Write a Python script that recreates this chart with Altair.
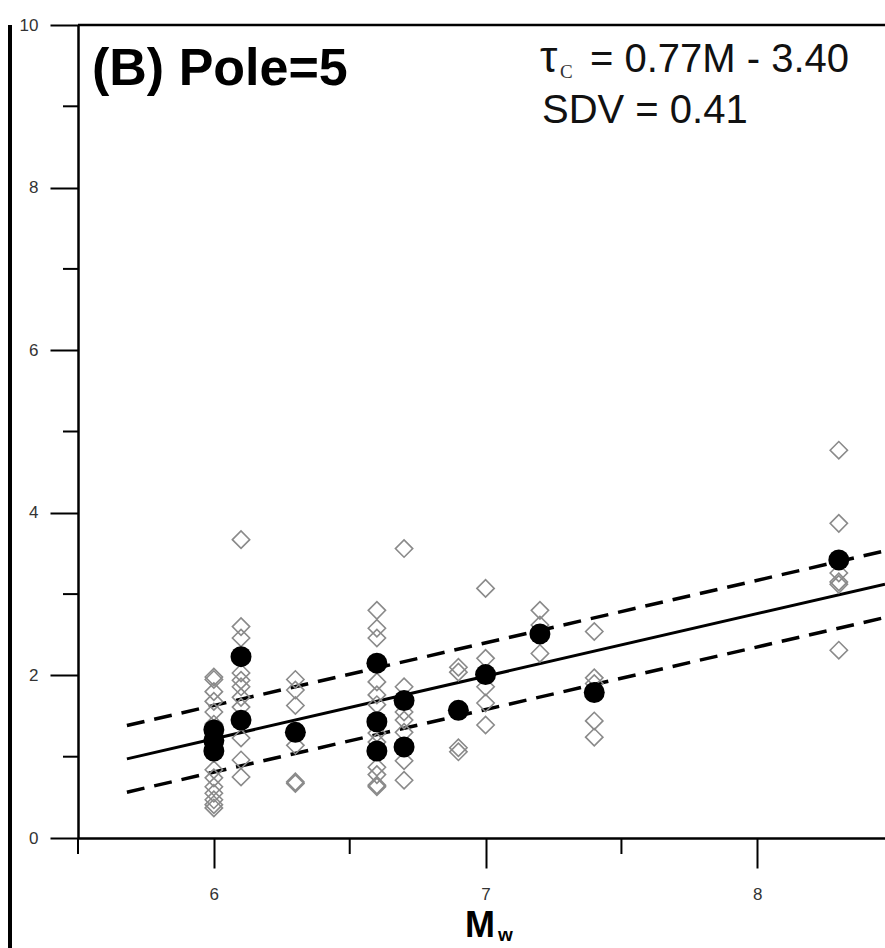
import altair as alt
import pandas as pd

# ---- data ----
# open diamonds: individual station tau_c values, grouped by event magnitude Mw
st_mw = [6.0, 6.1, 6.3, 6.6, 6.7, 6.9, 7.0, 7.2, 7.4, 8.3]
st_tau_60 = [1.98, 1.95, 1.80, 1.68, 1.55, 1.40, 0.84, 0.74, 0.63, 0.55, 0.47, 0.41, 0.37]
st_tau_61 = [3.67, 2.60, 2.46, 2.03, 1.94, 1.86, 1.73, 1.61, 1.23, 0.96, 0.75]
st_tau_63 = [1.95, 1.82, 1.63, 1.14, 0.69, 0.67]
st_tau_66 = [2.80, 2.58, 2.46, 1.92, 1.76, 1.64, 1.29, 1.18, 0.87, 0.78, 0.65, 0.63]
st_tau_67 = [3.56, 1.86, 1.55, 1.45, 1.30, 0.95, 0.71]
st_tau_69 = [2.10, 2.04, 1.11, 1.06]
st_tau_70 = [3.07, 2.21, 1.86, 1.66, 1.39]
st_tau_72 = [2.80, 2.62, 2.27]
st_tau_74 = [2.54, 1.97, 1.90, 1.44, 1.24]
st_tau_83 = [4.77, 3.87, 3.26, 3.15, 3.12, 2.31]
st_groups = [st_tau_60, st_tau_61, st_tau_63, st_tau_66, st_tau_67,
             st_tau_69, st_tau_70, st_tau_72, st_tau_74, st_tau_83]

# filled circles: event-averaged tau_c
ev_mw = [6.0, 6.0, 6.0, 6.1, 6.1, 6.3, 6.6, 6.6, 6.6, 6.7, 6.7, 6.9, 7.0, 7.2, 7.4, 8.3]
ev_tau = [1.33, 1.20, 1.07, 2.23, 1.45, 1.30, 2.15, 1.43, 1.07, 1.69, 1.12, 1.57, 2.01, 2.51, 1.79, 3.42]

# regression  tau_c = 0.77 M - 3.40, SDV = 0.41
fit_slope = 0.77
fit_intercept = -3.40
fit_sdv = 0.41
fit_range = [5.68, 8.47]

x_major = [6, 7, 8]
x_minor = [5.5, 6.5, 7.5]
y_major = [0, 2, 4, 6, 8, 10]
y_minor = [1, 3, 5, 7, 9]

# ---- tables ----
st_rows = []
for m, taus in zip(st_mw, st_groups):
    for t in taus:
        st_rows.append({"mw": m, "tau": t})
stations = pd.DataFrame(st_rows)
events = pd.DataFrame({"mw": ev_mw, "tau": ev_tau})

line_rows = []
for kind, off in [("fit", 0.0), ("upper", fit_sdv), ("lower", -fit_sdv)]:
    for m in fit_range:
        line_rows.append({"mw": m, "tau": fit_slope * m + fit_intercept + off, "kind": kind})
lines = pd.DataFrame(line_rows)

FONT = "Liberation Sans"
W, H = 807, 813

xscale = alt.Scale(domain=[5.5, 8.47], nice=False, zero=False)
yscale = alt.Scale(domain=[0, 10], nice=False, zero=False)

xaxis = alt.Axis(values=x_major, format="d", tickSize=30, tickWidth=2, tickColor="black",
                 domainColor="black", domainWidth=2.5, labelFontSize=17,
                 labelFont=FONT, labelColor="#333", labelPadding=18,
                 labelFlush=False, grid=False, title=None)
yaxis = alt.Axis(values=y_major, format="d", tickSize=28, tickWidth=2, tickColor="black",
                 domainColor="black", domainWidth=2.5, labelFontSize=17,
                 labelFont=FONT, labelColor="#333", labelPadding=12,
                 labelFlush=False, grid=False, title=None)

X = alt.X("mw:Q", scale=xscale, axis=xaxis)
Y = alt.Y("tau:Q", scale=yscale, axis=yaxis)

diamonds = alt.Chart(stations).mark_point(
    shape="diamond", size=300, filled=False, stroke="#8a8a8a", strokeWidth=1.6, opacity=1
).encode(x=X, y=Y)

circles = alt.Chart(events).mark_circle(size=440, color="black", opacity=1).encode(x=X, y=Y)

fit_line = alt.Chart(lines[lines.kind == "fit"]).mark_line(
    color="black", strokeWidth=3
).encode(x=X, y=Y)

band = alt.Chart(lines[lines.kind != "fit"]).mark_line(
    color="black", strokeWidth=3.5, strokeDash=[18, 10]
).encode(x=X, y=Y, detail="kind:N")

xminor = alt.Chart(pd.DataFrame({"mw": x_minor})).mark_rule(
    color="black", strokeWidth=2
).encode(x=alt.X("mw:Q", scale=xscale), y=alt.value(H), y2=alt.value(H + 16))

yminor = alt.Chart(pd.DataFrame({"tau": y_minor})).mark_rule(
    color="black", strokeWidth=2
).encode(y=alt.Y("tau:Q", scale=yscale), x=alt.value(-15), x2=alt.value(0))

one = pd.DataFrame({"a": [0]})

top_border = alt.Chart(one).mark_rule(color="black", strokeWidth=2.5).encode(
    x=alt.value(0), x2=alt.value(W), y=alt.value(0))

# fragment of the neighbouring panel at the far left
left_frag = alt.Chart(one).mark_rule(color="black", strokeWidth=4).encode(
    x=alt.value(-68), y=alt.value(0), y2=alt.value(H + 110))


def label(text, x, y, size, weight="normal", font=FONT, color="black", align="left"):
    return alt.Chart(one).mark_text(
        text=text, font=font, fontSize=size, fontWeight=weight, color=color,
        align=align, baseline="alphabetic"
    ).encode(x=alt.value(x), y=alt.value(y))


texts = [
    label("(B) Pole=5", 14, 60, 52, weight="bold"),
    label("τ", 462, 47, 44, color="#111"),
    label("C", 482, 53, 19, font="Liberation Serif", color="#333"),
    label("= 0.77M - 3.40", 512, 47, 40, color="#111"),
    label("SDV = 0.41", 464, 98, 40, color="#111"),
    label("M", 402, 912, 36, weight="bold", align="center"),
    label("w", 420, 916, 19, weight="bold"),
]

chart = alt.layer(
    band, fit_line, diamonds, circles, xminor, yminor, top_border, left_frag, *texts
).properties(
    width=W, height=H,
    autosize=alt.AutoSizeParams(type="none"),
    padding={"left": 78, "top": 25, "right": 0, "bottom": 110},
    background="white",
).configure_view(stroke=None)

chart.save("out.html", embed_options={"renderer": "svg", "actions": False})
